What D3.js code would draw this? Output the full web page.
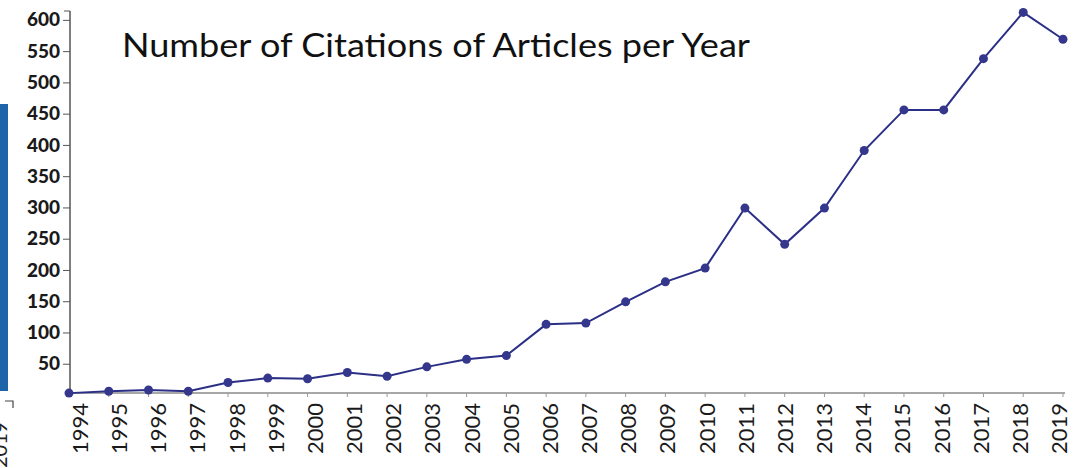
<!DOCTYPE html>
<html><head><meta charset="utf-8">
<script src="https://cdn.jsdelivr.net/npm/d3@7"></script>
<style>body{margin:0;background:#fff}svg{display:block}</style>
</head><body>
<script>
const years = [1994,1995,1996,1997,1998,1999,2000,2001,2002,2003,2004,2005,2006,2007,2008,2009,2010,2011,2012,2013,2014,2015,2016,2017,2018,2019];
const citations = [3,6,8,6,20,27,26,36,30,45,57,63,113,115,149,181,203,299,241,299,391,456,456,538,612,569];
const yTicks = [50,100,150,200,250,300,350,400,450,500,550,600];
const title = "Number of Citations of Articles per Year";

const W=1087,H=468;
const svg=d3.select("body").append("svg").attr("width",W).attr("height",H);

const x=d3.scaleLinear().domain([1994,2019]).range([69,1063]);
const xl=d3.scaleLinear().domain([1994,2019]).range([80,1059]);
const y=d3.scaleLinear().domain([0,615]).range([395,10.5]);

// left fragment
svg.append("rect").attr("x",0).attr("y",104).attr("width",8).attr("height",287).attr("fill","#1e64a8");
svg.append("path").attr("d","M5,401H13V408").attr("fill","none").attr("stroke","#444").attr("stroke-width",1.2);
svg.append("text").attr("transform","translate(7,468) rotate(-90)").attr("font-family","Lato").attr("font-size",20).attr("fill","#222").text("2019");

// x axis line
svg.append("line").attr("x1",70).attr("x2",1065).attr("y1",393).attr("y2",393).attr("stroke","#8a8a8a").attr("stroke-width",1.5);
svg.append("g").selectAll("line").data(years).join("line")
  .attr("x1",d=>x(d)).attr("x2",d=>x(d)).attr("y1",393).attr("y2",397).attr("stroke","#999");
svg.append("g").selectAll("text").data(years).join("text")
  .attr("transform",d=>`translate(${xl(d)+8},403) rotate(-90)`)
  .attr("text-anchor","end").attr("font-family","Lato").attr("font-size",22).attr("fill","#1a1a1a").text(d=>d);

// y axis
const ya=svg.append("g").attr("transform","translate(70,0)")
  .call(d3.axisLeft(y).tickValues(yTicks).tickSize(7).tickPadding(3).tickSizeOuter(0));
ya.select(".domain").remove();
ya.append("line").attr("x1",0).attr("x2",0).attr("y1",393).attr("y2",11).attr("stroke","#555").attr("stroke-width",1.5);
ya.append("line").attr("x1",0).attr("x2",-6).attr("y1",11).attr("y2",11).attr("stroke","#555");
ya.selectAll(".tick line").attr("stroke","#555");
ya.selectAll(".tick text").attr("font-family","Lato").attr("font-weight","900").attr("font-size",19).attr("fill","#1a1a1a");

// title
svg.append("text").attr("x",122).attr("y",57).attr("font-family","Lato").attr("font-size",33).attr("fill","#111")
  .attr("textLength",628).attr("lengthAdjust","spacingAndGlyphs").text(title);

// line and points
const data=years.map((d,i)=>({year:d,v:citations[i]}));
svg.append("path").datum(data).attr("fill","none").attr("stroke","#2c2f86").attr("stroke-width",2)
  .attr("d",d3.line().x(d=>x(d.year)).y(d=>y(d.v)));
svg.append("g").selectAll("circle").data(data).join("circle")
  .attr("cx",d=>x(d.year)).attr("cy",d=>y(d.v)).attr("r",4.5).attr("fill","#34378c");
</script>
</body></html>
